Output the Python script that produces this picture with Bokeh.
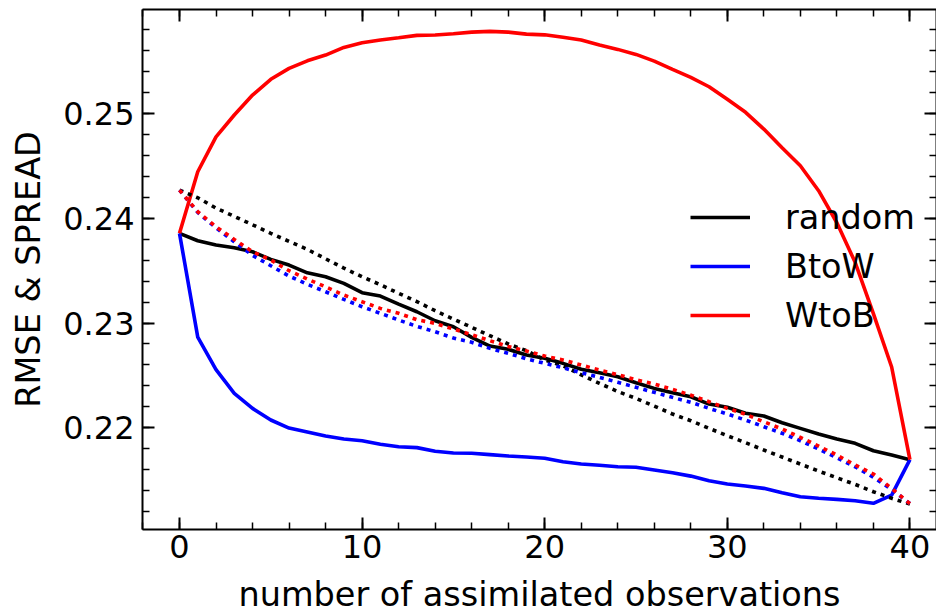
from bokeh.plotting import figure
from bokeh.models import (LinearAxis, SingleIntervalTicker, Range1d, Legend, LegendItem,
                          CustomJSTickFormatter)
from bokeh.embed import file_html
from bokeh.resources import INLINE

n_obs = list(range(41))

rmse_random = [0.23857, 0.23786, 0.23745, 0.23719, 0.23681, 0.23608, 0.23554, 0.2348, 0.23442, 0.23379,
               0.2329, 0.23258, 0.23181, 0.23108, 0.23022, 0.22965, 0.22863, 0.2278, 0.22749, 0.22694,
               0.22663, 0.22615, 0.22558, 0.22525, 0.22487, 0.2243, 0.22376, 0.22334, 0.22296, 0.22226,
               0.22195, 0.22138, 0.22112, 0.22048, 0.21994, 0.2194, 0.21892, 0.21851, 0.2178, 0.21739,
               0.21695]
rmse_btow = [0.23857, 0.22866, 0.22555, 0.22329, 0.22185, 0.22074, 0.21997, 0.21959, 0.21921, 0.21892,
             0.21876, 0.21842, 0.21819, 0.2181, 0.21775, 0.21759, 0.21756, 0.21743, 0.2173, 0.2172,
             0.21708, 0.21675, 0.21653, 0.21641, 0.21627, 0.21622, 0.21596, 0.2157, 0.21538, 0.21494,
             0.21462, 0.21443, 0.21421, 0.2138, 0.21341, 0.21326, 0.21316, 0.21303, 0.21278, 0.21357,
             0.21695]
rmse_wtob = [0.23857, 0.24445, 0.24779, 0.24987, 0.25178, 0.25328, 0.25433, 0.25505, 0.2556, 0.25633,
             0.25677, 0.25703, 0.25725, 0.25748, 0.25751, 0.25763, 0.25779, 0.25786, 0.25779, 0.2576,
             0.25753, 0.2573, 0.25703, 0.25657, 0.25614, 0.25566, 0.25502, 0.25423, 0.25347, 0.25257,
             0.25137, 0.25013, 0.24853, 0.24674, 0.24502, 0.24264, 0.23958, 0.2358, 0.2309, 0.2258,
             0.21695]
spread_random = [0.2427, 0.24197, 0.24098, 0.24019, 0.23939, 0.23857, 0.2378, 0.23704, 0.23614, 0.23525,
                 0.23442, 0.23366, 0.23284, 0.23205, 0.23118, 0.23038, 0.22959, 0.22879, 0.228, 0.22736,
                 0.22647, 0.22592, 0.22505, 0.22424, 0.22346, 0.2228, 0.22207, 0.22131, 0.22067, 0.21994,
                 0.21924, 0.21857, 0.21787, 0.2172, 0.21653, 0.21586, 0.21522, 0.21459, 0.21389, 0.21326,
                 0.21271]
spread_btow = [0.2427, 0.24057, 0.2391, 0.23777, 0.23647, 0.23547, 0.23449, 0.2337, 0.23299, 0.23226,
               0.23156, 0.23093, 0.23029, 0.22968, 0.22917, 0.22857, 0.22816, 0.22758, 0.22711, 0.22659,
               0.22615, 0.22573, 0.22525, 0.22481, 0.22434, 0.22386, 0.22338, 0.2229, 0.22243, 0.22185,
               0.22131, 0.22073, 0.2201, 0.21947, 0.21876, 0.21797, 0.21713, 0.21627, 0.21526, 0.21412,
               0.21275]
spread_wtob = [0.2427, 0.24063, 0.2392, 0.23799, 0.23681, 0.23602, 0.235, 0.2342, 0.23347, 0.23267,
               0.23203, 0.2314, 0.23093, 0.23032, 0.22997, 0.22943, 0.22888, 0.22831, 0.22777, 0.22733,
               0.22685, 0.22647, 0.22599, 0.22551, 0.22506, 0.22459, 0.22417, 0.22367, 0.22312, 0.22248,
               0.22185, 0.22128, 0.22057, 0.21988, 0.21908, 0.21825, 0.21739, 0.21644, 0.21558, 0.2142,
               0.21275]

legend_labels = ["random", "BtoW", "WtoB"]
colors = ["#000000", "#0000ff", "#ff0000"]

FONT = "DejaVu Sans"
TICK_FS = "32px"
LABEL_FS = "33.5px"

p = figure(frame_width=794, frame_height=520,
           x_range=Range1d(-2.026, 41.456), y_range=Range1d(0.21028, 0.25995),
           output_backend="svg", toolbar_location=None,
           min_border_left=142, min_border_right=0, min_border_top=9, min_border_bottom=0,
           x_axis_label="number of assimilated observations", y_axis_label="RMSE & SPREAD")
p.grid.visible = False
p.outline_line_color = None
p.background_fill_color = "white"
p.border_fill_color = "white"

def style_axis(ax, labels=True):
    ax.axis_line_width = 2
    ax.axis_line_color = "black"
    ax.major_tick_in = 12
    ax.major_tick_out = 0
    ax.minor_tick_in = 7
    ax.minor_tick_out = 0
    ax.major_tick_line_width = 2
    ax.minor_tick_line_width = 1.5
    ax.major_tick_line_color = "black"
    ax.minor_tick_line_color = "black"
    if labels:
        ax.major_label_text_font = FONT
        ax.major_label_text_font_size = TICK_FS
        ax.major_label_text_color = "black"
        ax.axis_label_text_font = FONT
        ax.axis_label_text_font_size = LABEL_FS
        ax.axis_label_text_font_style = "normal"
        ax.axis_label_text_color = "black"
    else:
        ax.formatter = CustomJSTickFormatter(code="return ''")
        ax.major_label_text_font_size = "1px"
        ax.major_label_standoff = 0
        ax.axis_label_standoff = 0

p.xaxis.ticker = SingleIntervalTicker(interval=10, num_minor_ticks=5)
p.yaxis.ticker = SingleIntervalTicker(interval=0.01, num_minor_ticks=5)
style_axis(p.xaxis[0])
style_axis(p.yaxis[0])
p.xaxis[0].major_label_standoff = 5
p.xaxis[0].axis_label_standoff = 14
p.yaxis[0].major_label_standoff = 8
p.yaxis[0].axis_label_standoff = 12

top = LinearAxis(ticker=SingleIntervalTicker(interval=10, num_minor_ticks=5))
right = LinearAxis(ticker=SingleIntervalTicker(interval=0.01, num_minor_ticks=5))
style_axis(top, labels=False)
style_axis(right, labels=False)
p.add_layout(top, "above")
p.add_layout(right, "right")

r_rand = p.line(n_obs, rmse_random, line_color=colors[0], line_width=3.6)
r_btow = p.line(n_obs, rmse_btow, line_color=colors[1], line_width=3.6)
r_wtob = p.line(n_obs, rmse_wtob, line_color=colors[2], line_width=3.6)
p.line(n_obs, spread_random, line_color=colors[0], line_width=3.6, line_dash="4 5", line_cap="butt")
p.line(n_obs, spread_btow, line_color=colors[1], line_width=3.6, line_dash="4 5", line_cap="butt")
p.line(n_obs, spread_wtob, line_color=colors[2], line_width=3.6, line_dash="4 5", line_cap="butt")

legend = Legend(items=[LegendItem(label=legend_labels[0], renderers=[r_rand]),
                       LegendItem(label=legend_labels[1], renderers=[r_btow]),
                       LegendItem(label=legend_labels[2], renderers=[r_wtob])],
                location=(548, 194))
legend.border_line_color = None
legend.background_fill_alpha = 0
legend.padding = 0
legend.margin = 0
legend.glyph_width = 60
legend.glyph_height = 40
legend.label_height = 40
legend.spacing = 9
legend.label_standoff = 35
legend.label_text_font = FONT
legend.label_text_font_size = LABEL_FS
legend.label_text_color = "black"
legend.level = "underlay"
p.add_layout(legend)

open("out.html", "w").write(file_html(p, INLINE))
